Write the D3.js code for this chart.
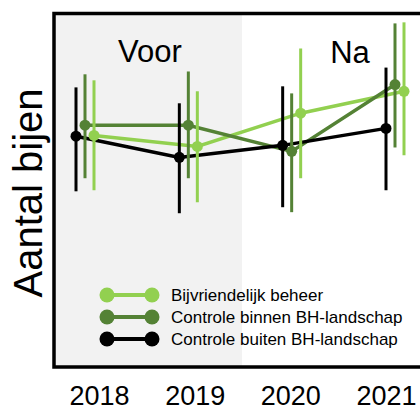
<!DOCTYPE html>
<html>
<head>
<meta charset="utf-8">
<script src="https://cdn.jsdelivr.net/npm/d3@7"></script>
<style>
  html, body { margin:0; padding:0; background:#fff; }
  svg { display:block; font-family:"Liberation Sans", Arial, sans-serif; }
</style>
</head>
<body>
<div id="chart"></div>
<script>
// bee counts before / after bee-friendly management (arbitrary units)
const years = ["2018", "2019", "2020", "2021"];
const seriesNames = ["Bijvriendelijk beheer", "Controle binnen BH-landschap", "Controle buiten BH-landschap"];
const seriesColors = ["#92d050", "#548235", "#000000"];

const beheerMean = [65.5, 62.4, 71.8, 78.0];
const beheerHigh = [81.1, 78.0, 90.1, 97.5];
const beheerLow  = [50.0, 46.6, 53.4, 59.9];

const binnenMean = [68.4, 68.4, 61.0, 79.9];
const binnenHigh = [82.8, 83.6, 77.4, 97.2];
const binnenLow  = [53.4, 53.4, 43.8, 62.1];

const buitenMean = [65.3, 59.3, 62.7, 67.5];
const buitenHigh = [79.1, 74.6, 79.4, 84.7];
const buitenLow  = [49.7, 43.5, 45.2, 50.0];

const periodLabels = ["Voor", "Na"];

const W = 420, H = 412;
const frame = { left:54, top:13.5, right:440, bottom:367 };

const series = [
  { name:seriesNames[0], color:seriesColors[0], offset:18, mean:beheerMean, hi:beheerHigh, lo:beheerLow },
  { name:seriesNames[1], color:seriesColors[1], offset:9,  mean:binnenMean, hi:binnenHigh, lo:binnenLow },
  { name:seriesNames[2], color:seriesColors[2], offset:0,  mean:buitenMean, hi:buitenHigh, lo:buitenLow }
];

const x = d3.scalePoint().domain(years).range([76, 386]);
const xLabel = d3.scalePoint().domain(years).range([99, 386]);
const y = d3.scaleLinear().domain([0, 100]).range([frame.bottom, frame.top]);

const svg = d3.select("#chart").append("svg")
  .attr("width", W).attr("height", H);

// shaded "voor" period
const shadeEnd = (x("2019") + x("2020")) / 2 + 11;
svg.append("rect")
  .attr("x", frame.left).attr("y", frame.top)
  .attr("width", shadeEnd - frame.left)
  .attr("height", frame.bottom - frame.top)
  .attr("fill", "#f2f2f2");

// period labels
svg.append("text")
  .attr("x", (frame.left + shadeEnd) / 2 + 2).attr("y", 62)
  .attr("text-anchor", "middle").style("font-size", "31px")
  .text(periodLabels[0]);
svg.append("text")
  .attr("x", 350).attr("y", 63)
  .attr("text-anchor", "middle").style("font-size", "31px")
  .text(periodLabels[1]);

// lines
const line = (s) => d3.line()
  .x((d, i) => x(years[i]) + s.offset)
  .y(d => y(d));

series.forEach(s => {
  svg.append("path")
    .datum(s.mean)
    .attr("fill", "none")
    .attr("stroke", s.color)
    .attr("stroke-width", 3.5)
    .attr("d", line(s));
});

// error bars
series.forEach(s => {
  svg.selectAll(null)
    .data(years).enter().append("line")
    .attr("x1", d => x(d) + s.offset).attr("x2", d => x(d) + s.offset)
    .attr("y1", (d, i) => y(s.hi[i])).attr("y2", (d, i) => y(s.lo[i]))
    .attr("stroke", s.color).attr("stroke-width", 3);
});

// points
series.forEach(s => {
  svg.selectAll(null)
    .data(s.mean).enter().append("circle")
    .attr("cx", (d, i) => x(years[i]) + s.offset)
    .attr("cy", d => y(d))
    .attr("r", 5.5)
    .attr("fill", s.color);
});

// frame (left, top, bottom; right side runs off the picture)
svg.append("rect")
  .attr("x", frame.left).attr("y", frame.top)
  .attr("width", frame.right - frame.left)
  .attr("height", frame.bottom - frame.top)
  .attr("fill", "none").attr("stroke", "#000").attr("stroke-width", 3.5);

// year labels
const xAxis = svg.append("g")
  .attr("transform", `translate(0,${380})`)
  .call(d3.axisBottom(xLabel).tickSize(0).tickPadding(0));
xAxis.select(".domain").remove();
xAxis.selectAll("text")
  .attr("dy", "0")
  .attr("y", 25)
  .style("font-family", "Liberation Sans, Arial, sans-serif")
  .style("font-size", "27px")
  .attr("fill", "#000");

// y title
svg.append("text")
  .attr("transform", `translate(42,${193}) rotate(-90)`)
  .attr("text-anchor", "middle")
  .style("font-size", "40px")
  .text("Aantal bijen");

// legend
const legend = svg.append("g");
const legendRows = d3.scalePoint().domain(seriesNames).range([295, 339]);
seriesNames.forEach((name, i) => {
  const yy = legendRows(name);
  legend.append("line")
    .attr("x1", 107).attr("x2", 152).attr("y1", yy).attr("y2", yy)
    .attr("stroke", seriesColors[i]).attr("stroke-width", 4);
  legend.selectAll(null).data([107, 152]).enter().append("circle")
    .attr("cx", d => d).attr("cy", yy).attr("r", 7.5)
    .attr("fill", seriesColors[i]);
  legend.append("text")
    .attr("x", 171).attr("y", yy + 6)
    .style("font-size", "17px")
    .text(name);
});
</script>
</body>
</html>
